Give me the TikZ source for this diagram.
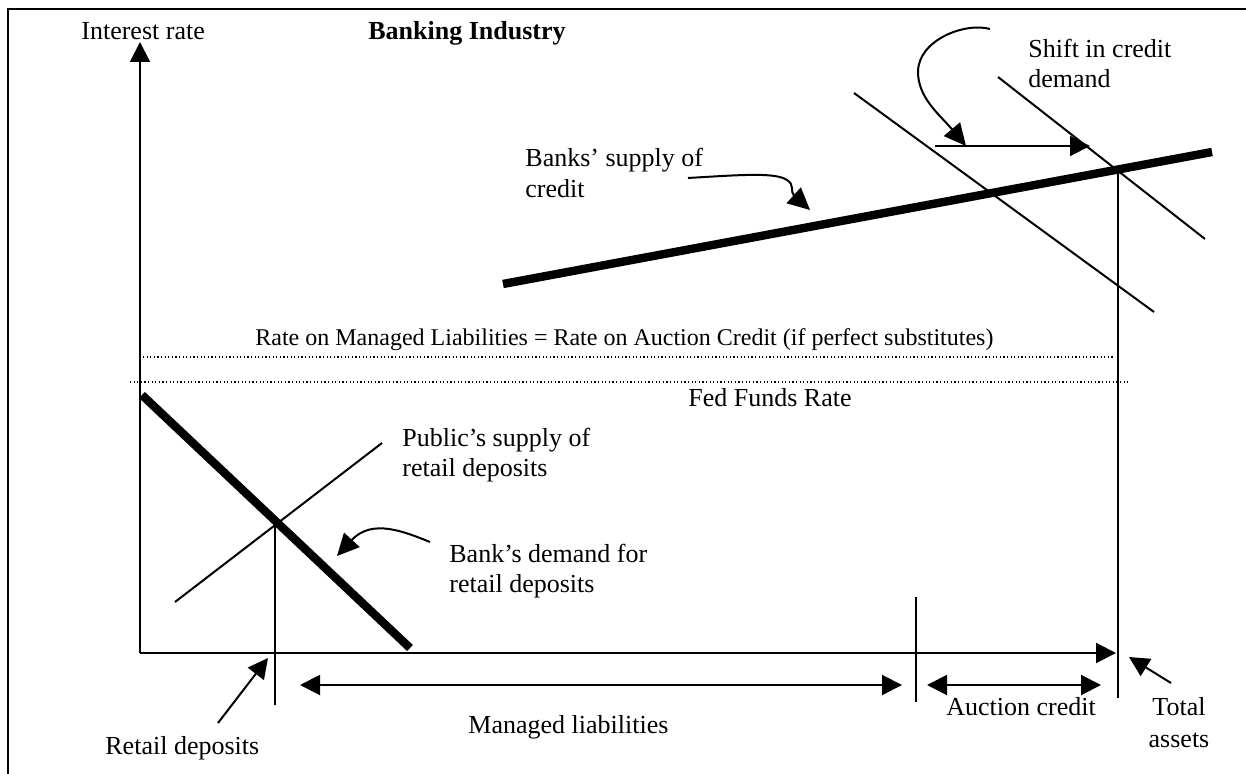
\documentclass[tikz,border=0pt]{standalone}
\usepackage{fontspec}
\setmainfont{Liberation Serif}
\usetikzlibrary{arrows.meta}
\begin{document}
\begin{tikzpicture}[x=0.5pt,y=-0.5pt,
  thinline/.style={line width=1pt},
  thickline/.style={line width=4.2pt},
  tri/.style={-{Triangle[length=10pt,width=10pt]}},
  bigtri/.style={-{Triangle[length=11pt,width=10.5pt]}},
  duo/.style={{Triangle[length=10pt,width=10pt]}-{Triangle[length=10pt,width=10pt]}},
  lbl/.style={font=\fontsize{13}{15}\selectfont, inner sep=0pt, anchor=base west},
  dotline/.style={line width=0.6pt, dash pattern=on 0.6pt off 1.2pt}]
\useasboundingbox (0,0) rectangle (1246,774);
% frame
\coordinate (fTL) at (8,9);
\coordinate (fTR) at (1246,9);
\coordinate (fBL) at (8,774);
\draw[line width=1pt] (fTR) -- (fTL) -- (fBL);

% axes
\coordinate (O) at (140,653);
\coordinate (ytip) at (140,42);
\coordinate (xtip) at (1116,653);
\draw[thinline, tri] (O) -- (ytip);
\draw[thinline, tri] (O) -- (xtip);

% titles
\node[lbl] (ylab) at (81,40) {Interest rate};
\node[lbl, font=\fontsize{13}{15}\selectfont\bfseries] (title) at (368,40) {Banking Industry};

% credit market
\coordinate (s1) at (503,284);
\coordinate (s2) at (1212,152);
\draw[thickline] (s1) -- (s2);
\coordinate (d1a) at (854,93);
\coordinate (d1b) at (1154,312);
\draw[thinline] (d1a) -- (d1b);
\coordinate (d2a) at (998,77);
\coordinate (d2b) at (1205,239);
\draw[thinline] (d2a) -- (d2b);
\coordinate (ta1) at (1118,170);
\coordinate (ta2) at (1118,698);
\draw[thinline] (ta1) -- (ta2);
\coordinate (sh1) at (935,146);
\coordinate (sh2) at (1090,146);
\draw[thinline, tri] (sh1) -- (sh2);

\node[lbl] (shift1) at (1028,58) {Shift in credit};
\node[lbl] (shift2) at (1028,88) {demand};
\coordinate (shc0) at (990,29);
\coordinate (shc1) at (966,146);
\draw[thinline, bigtri] (shc0) .. controls (965,22) and (918,40) .. (918,72)
   .. controls (918,98) and (940,115) .. (shc1);

\node[lbl] (bs1) at (525,167) {Banks’ supply of};
\node[lbl] (bs2) at (525,198) {credit};
\coordinate (bsc0) at (688,178);
\coordinate (bsc1) at (810,210);
\draw[thinline, bigtri] (bsc0) .. controls (740,175) and (775,172) .. (787,180)
   .. controls (795,185) and (790,192) .. (bsc1);

% managed liabilities / fed funds
\coordinate (u1) at (143,357);
\coordinate (u2) at (1114,357);
\draw[dotline] (u1) -- (u2);
\coordinate (l1) at (130,382);
\coordinate (l2) at (1129,382);
\draw[dotline] (l1) -- (l2);
\node[lbl, font=\fontsize{12}{14}\selectfont] (rate) at (255,346) {Rate on Managed Liabilities = Rate on Auction Credit (if perfect substitutes)};
\node[lbl] (ffr) at (688,407) {Fed Funds Rate};

% retail deposits market
\coordinate (bd1) at (142,395);
\coordinate (bd2) at (410,648);
\draw[thickline] (bd1) -- (bd2);
\coordinate (ps1) at (175,602);
\coordinate (ps2) at (382,443);
\draw[thinline] (ps1) -- (ps2);
\coordinate (rv1) at (275,523);
\coordinate (rv2) at (275,705);
\draw[thinline] (rv1) -- (rv2);
\node[lbl] (pub1) at (402,446) {Public’s supply of};
\node[lbl] (pub2) at (402,477) {retail deposits};
\node[lbl] (bank1) at (449,562) {Bank’s demand for};
\node[lbl] (bank2) at (449,592) {retail deposits};
\coordinate (bdc0) at (430,542);
\coordinate (bdc1) at (337,556);
\draw[thinline, bigtri] (bdc0) .. controls (405,532) and (372,518) .. (bdc1);

% bottom quantities
\coordinate (mv1) at (916,597);
\coordinate (mv2) at (916,702);
\draw[thinline] (mv1) -- (mv2);
\coordinate (ml1) at (300,685);
\coordinate (ml2) at (902,685);
\draw[thinline, duo] (ml1) -- (ml2);
\coordinate (ac1) at (927,685);
\coordinate (ac2) at (1101,685);
\draw[thinline, duo] (ac1) -- (ac2);
\node[lbl] (mlab) at (468,733) {Managed liabilities};
\node[lbl] (aclab) at (946,715) {Auction credit};
\node[lbl] (rdlab) at (105,754) {Retail deposits};
\coordinate (rda0) at (218,723);
\coordinate (rda1) at (268,658);
\draw[thinline, tri] (rda0) -- (rda1);
\node[lbl, anchor=base] (tot1) at (1179,715) {Total};
\node[lbl, anchor=base] (tot2) at (1179,747) {assets};
\coordinate (taa0) at (1171,683);
\coordinate (taa1) at (1129,657);
\draw[thinline, tri] (taa0) -- (taa1);
\end{tikzpicture}
\end{document}
